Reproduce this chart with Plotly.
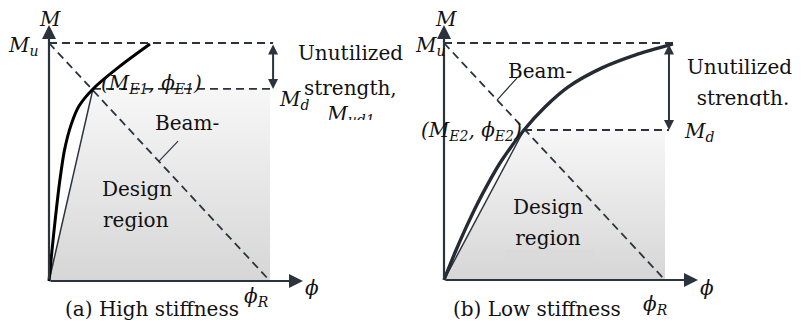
import plotly.graph_objects as go

# ---------------- data (normalised: phi / phi_R , M / M_u) ----------------
Mu = 1.0
phiR = 1.0

# (a) high stiffness moment-curvature curve
phi_a = [0.0, 0.0136, 0.0294, 0.0475, 0.0701, 0.0995, 0.1357, 0.199, 0.321, 0.457]
M_a = [0.0, 0.130, 0.269, 0.412, 0.550, 0.655, 0.735, 0.807, 0.903, 0.996]
phiE1, Md_a = 0.199, 0.807

# (b) low stiffness moment-curvature curve
phi_b = [0.0, 0.05, 0.10, 0.15, 0.20, 0.26, 0.362, 0.457, 0.561, 0.715, 0.864, 1.036]
M_b = [0.0, 0.116, 0.222, 0.320, 0.408, 0.503, 0.633, 0.730, 0.814, 0.895, 0.949, 0.996]
phiE2, Md_b = 0.362, 0.633

# ---------------- layout constants (pixels) ----------------
W, H = 802, 329
# panel calibration: origin pixel, pixels per unit phi, pixels per unit M
cal = {
    "a": dict(x0=49, y0=281, sx=221, sy=238, px_left=0, px_right=401),
    "b": dict(x0=444, y0=280, sx=221, sy=237, px_left=401, px_right=802),
}

DARK = "#2c333d"
FONT = "DejaVu Serif"
FS = 20
TXT = "#111111"


def xr(c):
    return [(c["px_left"] - c["x0"]) / c["sx"], (c["px_right"] - c["x0"]) / c["sx"]]


def yr(c):
    return [(c["y0"] - H) / c["sy"], c["y0"] / c["sy"]]


def to_data(c, px, py):
    return (px - c["x0"]) / c["sx"], (c["y0"] - py) / c["sy"]


fig = go.Figure()


def panel(xa, ya, phi, M, phiE, Md, curve_color, curve_w, dim_phi, mu_end, md_end, leader):
    kw = dict(xaxis=xa, yaxis=ya, hoverinfo="skip", showlegend=False)
    # design region (gradient)
    fig.add_trace(go.Scatter(x=[0, phiE, phiR, phiR, 0], y=[0, Md, Md, 0, 0], mode="lines",
                             fill="toself", line=dict(width=0),
                             fillgradient=dict(type="vertical",
                                               colorscale=[[0, "#d6d6d6"], [1, "#f7f7f7"]]),
                             **kw))
    dash = dict(color=DARK, width=1.8, dash="8px,5px")
    fig.add_trace(go.Scatter(x=[0, mu_end], y=[Mu, Mu], mode="lines", line=dash, **kw))
    fig.add_trace(go.Scatter(x=[phiE, md_end], y=[Md, Md], mode="lines", line=dash, **kw))
    fig.add_trace(go.Scatter(x=[0, phiR], y=[Mu, 0], mode="lines", line=dash, **kw))
    # secant stiffness line
    fig.add_trace(go.Scatter(x=[0, phiE], y=[0, Md], mode="lines",
                             line=dict(color=DARK, width=1.5), **kw))
    # moment-curvature curve
    fig.add_trace(go.Scatter(x=phi, y=M, mode="lines",
                             line=dict(color=curve_color, width=curve_w, shape="spline", smoothing=0.8),
                             **kw))
    # leader line for "Beam-" label
    fig.add_trace(go.Scatter(x=leader[0], y=leader[1], mode="lines",
                             line=dict(color=DARK, width=1.2), **kw))
    # unutilized strength dimension arrow
    fig.add_annotation(x=dim_phi, y=Md, ax=dim_phi, ay=Mu, xref=xa, yref=ya, axref=xa, ayref=ya,
                       showarrow=True, arrowhead=2, startarrowhead=2, arrowside="end+start",
                       arrowsize=1.0, startarrowsize=1.0, arrowwidth=2, arrowcolor=DARK,
                       standoff=0, startstandoff=0, text="")


panel("x", "y", phi_a, M_a, phiE1, Md_a, "#000000", 3.0, 1.014, 1.014, 1.0,
      ([0.498, 0.584], [0.504, 0.588]))
panel("x2", "y2", phi_b, M_b, phiE2, Md_b, "#262b33", 3.4, 1.018, 1.036, 1.018,
      ([0.240, 0.330], [0.759, 0.852]))

# axes arrows (tips in pixels: y-axis tip at y=25, x-axis tip at x0+254)
for xa, ya, c in (("x", "y", cal["a"]), ("x2", "y2", cal["b"])):
    _, tip_y = to_data(c, c["x0"], 25)
    tip_x, _ = to_data(c, c["x0"] + 254, c["y0"])
    for (hx, hy) in ((0, tip_y), (tip_x, 0)):
        fig.add_annotation(x=hx, y=hy, ax=0, ay=0, xref=xa, yref=ya, axref=xa, ayref=ya,
                           showarrow=True, arrowhead=2, arrowsize=1.27, arrowwidth=2.2,
                           arrowcolor=DARK, standoff=0, text="")

# text labels (pixel positions -> paper)
labels = [
    # text, px, py, xanchor
    ("<i>M</i>", 50, 19, "center"),
    ("<i>M<sub>u</sub></i>", 41, 46, "right"),
    ("<i>(M<sub>E1</sub>, ϕ<sub>E1</sub>)</i>", 99, 84, "left"),
    ("Unutilized", 350, 53, "center"),
    ("strength,", 350, 88, "center"),
    ("<i>M<sub>d</sub></i>", 277, 100, "left"),
    ("Beam-", 187, 123, "center"),
    ("Design", 137, 189, "center"),
    ("region", 136, 220, "center"),
    ("<i>ϕ</i>", 312, 288, "center"),
    ("(a) High stiffness", 152, 309, "center"),
    ("<i>ϕ<sub>R</sub></i>", 256, 297, "center"),
    ("<i>M</i>", 446, 19, "center"),
    ("<i>M<sub>u</sub></i>", 448, 46, "right"),
    ("Beam-", 540, 71, "center"),
    ("<i>(M<sub>E2</sub>, ϕ<sub>E2</sub>)</i>", 524, 131, "right"),
    ("<i>M<sub>d</sub></i>", 682, 132, "left"),
    ("Unutilized", 739, 67, "center"),
    ("Design", 548, 207, "center"),
    ("<i>ϕ</i>", 707, 288, "center"),
    ("(b) Low stiffness", 537, 309, "center"),
    ("<i>ϕ<sub>R</sub></i>", 655, 305, "center"),
]
for t, px, py, xan in labels:
    fig.add_annotation(x=px / W, y=1 - py / H, xref="paper", yref="paper", text=t,
                       showarrow=False, xanchor=xan, yanchor="middle",
                       font=dict(family=FONT, size=FS, color=TXT))

# labels that are cut off at the bottom in the original figure:
# drawn as trace text, then masked below the cut line
clipped = [
    # text, panel, px, py, cut_y, mask_x0, mask_x1, mask colour
    ("<i>M<sub>ud1</sub></i>", "a", 351, 116, 120, 320, 390, "white"),
    ("strength.", "b", 743, 100, 106, 690, 801, "white"),
    ("region", "b", 548, 240, 249, 505, 595, "#dadada"),
]
for t, p, px, py, cut, mx0, mx1, mcol in clipped:
    c = cal[p]
    xa, ya = ("x", "y") if p == "a" else ("x2", "y2")
    dx, dy = to_data(c, px, py)
    fig.add_trace(go.Scatter(x=[dx], y=[dy], mode="text", text=[t], textposition="middle center",
                             textfont=dict(family=FONT, size=FS, color=TXT),
                             xaxis=xa, yaxis=ya, hoverinfo="skip", showlegend=False))
    fig.add_shape(type="rect", xref="paper", yref="paper", layer="above",
                  x0=mx0 / W, x1=mx1 / W, y0=1 - (cut + 14) / H, y1=1 - cut / H,
                  fillcolor=mcol, line=dict(width=0))

ax_common = dict(visible=False, showgrid=False, zeroline=False, fixedrange=True)
fig.update_layout(
    width=W, height=H, margin=dict(l=0, r=0, t=0, b=0),
    paper_bgcolor="white", plot_bgcolor="rgba(0,0,0,0)",
    xaxis=dict(domain=[0, cal["a"]["px_right"] / W], range=xr(cal["a"]), **ax_common),
    yaxis=dict(domain=[0, 1], range=yr(cal["a"]), **ax_common),
    xaxis2=dict(domain=[cal["b"]["px_left"] / W, 1], range=xr(cal["b"]), anchor="y2", **ax_common),
    yaxis2=dict(domain=[0, 1], range=yr(cal["b"]), anchor="x2", **ax_common),
    showlegend=False,
)
fig.write_html("out.html", config={"displayModeBar": False},
               post_script="document.body.style.margin='0';document.body.style.padding='0';"
                           "document.body.style.overflow='hidden';")
